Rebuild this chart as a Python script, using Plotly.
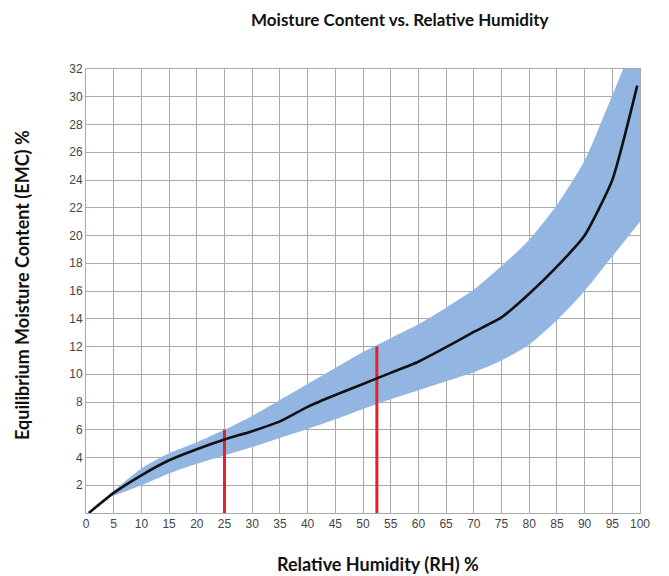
import plotly.graph_objects as go

# Equilibrium moisture content curve (RH %, EMC %)
rh_line = [0.5, 5, 10, 15, 20, 25, 30, 35, 40, 45, 50, 55, 60, 65, 70, 75, 80, 85, 90, 95, 99.5]
emc_line = [0.0, 1.45, 2.72, 3.8, 4.6, 5.3, 5.9, 6.6, 7.65, 8.5, 9.3, 10.1, 10.9, 11.95, 13.05, 14.1, 15.8, 17.75, 20.0, 24.0, 30.8]

# Range band
rh_band = [4, 5, 10, 15, 20, 25, 30, 35, 40, 45, 50, 55, 60, 65, 70, 75, 80, 85, 90, 95, 100]
emc_low = [1.15, 1.25, 2.0, 2.85, 3.55, 4.15, 4.75, 5.4, 6.05, 6.75, 7.5, 8.2, 8.85, 9.5, 10.15, 11.0, 12.15, 13.9, 16.0, 18.5, 21.0]
emc_high = [1.3, 1.6, 3.2, 4.3, 5.1, 6.0, 7.0, 8.15, 9.3, 10.45, 11.6, 12.6, 13.6, 14.8, 16.1, 17.8, 19.7, 22.2, 25.4, 30.1, 35.0]

# Red marker lines
marker_rh = [25, 52.5]
marker_emc = [6, 12]

x_ticks = list(range(0, 101, 5))
y_ticks = list(range(2, 33, 2))

# page offset (browser body margin)
OFF = 8
W, H = 669 - OFF, 576 - OFF
L, R, T, B = 86 - OFF, 29, 69 - OFF, 63

fig = go.Figure()
fig.add_trace(go.Scatter(x=rh_band, y=emc_low, mode="lines",
                         line=dict(width=0, color="#92b5e2", shape="spline", smoothing=0.7),
                         hoverinfo="skip", showlegend=False))
fig.add_trace(go.Scatter(x=rh_band, y=emc_high, mode="lines",
                         line=dict(width=0, color="#92b5e2", shape="spline", smoothing=0.7),
                         fill="tonexty", fillcolor="#92b5e2", hoverinfo="skip", showlegend=False))
for xr, yr in zip(marker_rh, marker_emc):
    fig.add_trace(go.Scatter(x=[xr, xr], y=[0, yr], mode="lines",
                             line=dict(color="#e0242a", width=3), showlegend=False))
fig.add_trace(go.Scatter(x=rh_line, y=emc_line, mode="lines",
                         line=dict(color="#111111", width=2.6, shape="spline", smoothing=0.5),
                         showlegend=False))

axis_font = dict(family="Liberation Sans, Arial, sans-serif", size=12, color="#444444")
fig.update_xaxes(range=[0, 100], tickvals=x_ticks, ticktext=[str(v) for v in x_ticks],
                 showgrid=True, gridcolor="#aaaaaa", gridwidth=1,
                 showline=True, linecolor="#aaaaaa", linewidth=1, mirror=True,
                 zeroline=False, ticks="", tickfont=axis_font)
fig.update_yaxes(range=[0, 32], tickvals=y_ticks, ticktext=[str(v) for v in y_ticks],
                 showgrid=True, gridcolor="#aaaaaa", gridwidth=1,
                 showline=True, linecolor="#aaaaaa", linewidth=1, mirror=True,
                 zeroline=False, ticks="", tickfont=axis_font)

pw, ph = W - L - R, H - T - B
def px_x(px):
    return (px - OFF - L) / pw
def px_y(py):
    return (H - B - (py - OFF)) / ph

fam = "Lato, Open Sans, sans-serif"
fig.update_layout(
    width=W, height=H,
    margin=dict(l=L, r=R, t=T, b=B),
    plot_bgcolor="white", paper_bgcolor="white",
    annotations=[
        dict(text="Moisture Content vs. Relative Humidity", xref="paper", yref="paper",
             x=px_x(400), y=px_y(20), xanchor="center", yanchor="middle", showarrow=False,
             font=dict(family=fam, size=17, color="#111111", weight="bold")),
        dict(text="Relative Humidity (RH) %", xref="paper", yref="paper",
             x=px_x(378), y=px_y(564), xanchor="center", yanchor="middle", showarrow=False,
             font=dict(family=fam, size=18, color="#111111", weight="bold")),
        dict(text="Equilibrium Moisture Content (EMC) %", xref="paper", yref="paper",
             x=px_x(22), y=px_y(285), xanchor="center", yanchor="middle", textangle=-90,
             showarrow=False, font=dict(family=fam, size=18, color="#111111", weight="bold")),
    ],
)

fig.write_html("out.html")
